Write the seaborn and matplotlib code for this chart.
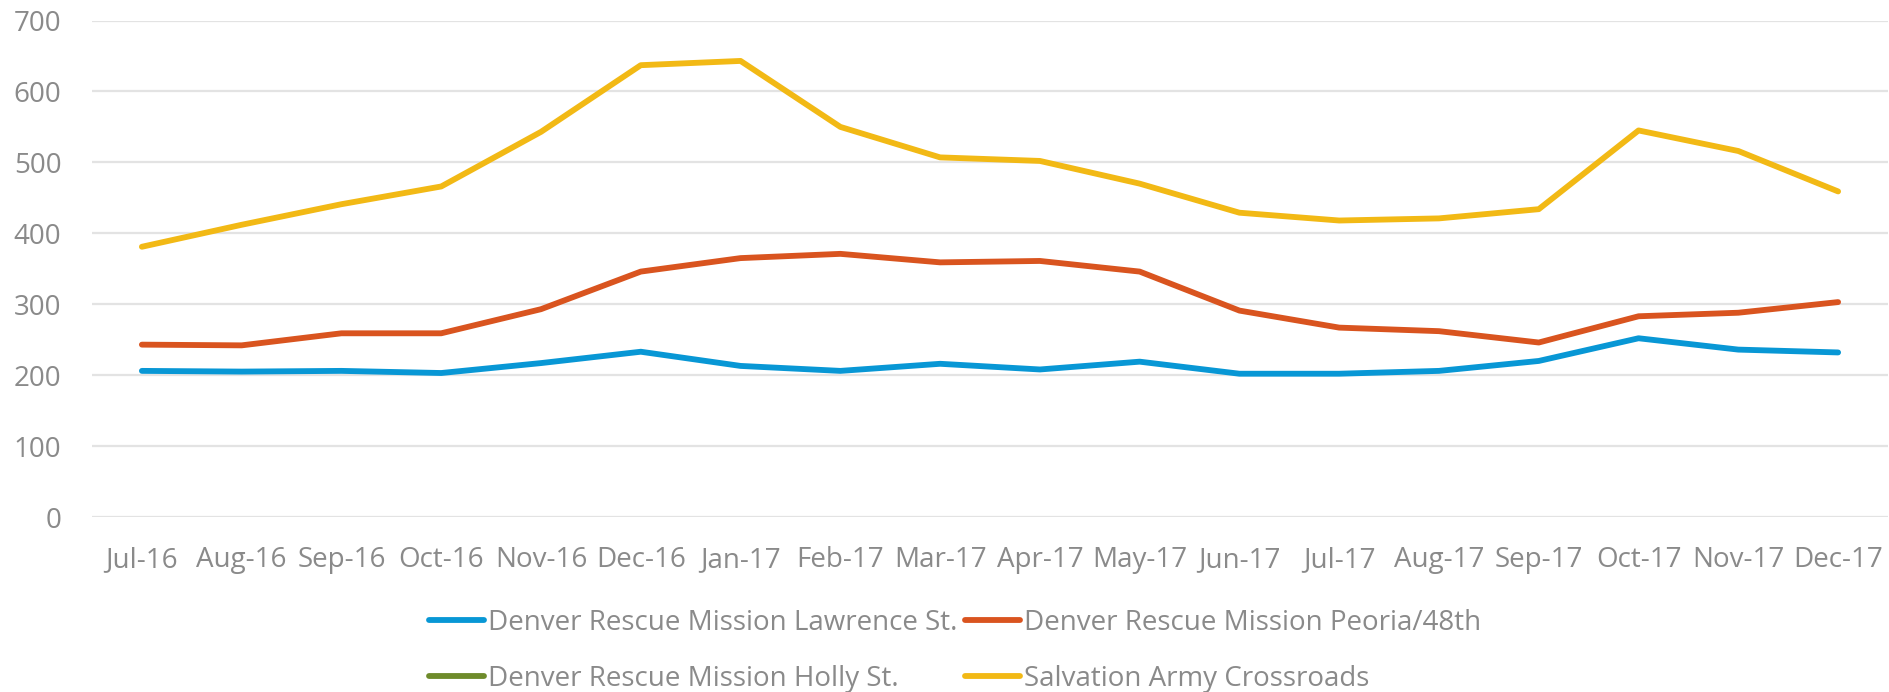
import numpy as np
import pandas as pd
import matplotlib
matplotlib.use('Agg')
import matplotlib.pyplot as plt
from matplotlib.lines import Line2D
import seaborn as sns

# data
months = ['Jul-16', 'Aug-16', 'Sep-16', 'Oct-16', 'Nov-16', 'Dec-16', 'Jan-17', 'Feb-17', 'Mar-17',
          'Apr-17', 'May-17', 'Jun-17', 'Jul-17', 'Aug-17', 'Sep-17', 'Oct-17', 'Nov-17', 'Dec-17']
lawrence = [206, 205, 206, 203, 217, 233, 213, 206, 216, 208, 219, 202, 202, 206, 220, 252, 236, 232]
peoria = [243, 242, 259, 259, 293, 346, 365, 371, 359, 361, 346, 291, 267, 262, 246, 283, 288, 303]
holly = [np.nan] * 18   # no values shown for Holly St.
salvation = [381, 412, 441, 466, 543, 637, 643, 550, 507, 502, 470, 429, 418, 421, 434, 545, 516, 459]
series_names = ['Denver Rescue Mission Lawrence St.', 'Denver Rescue Mission Peoria/48th',
                'Denver Rescue Mission Holly St.', 'Salvation Army Crossroads']
y_ticks = [0, 100, 200, 300, 400, 500, 600, 700]

colors = {
    'Denver Rescue Mission Lawrence St.': '#0897D5',
    'Denver Rescue Mission Peoria/48th': '#D9541F',
    'Denver Rescue Mission Holly St.': '#6E8B2B',
    'Salvation Army Crossroads': '#F2B915',
}

df = pd.DataFrame({'month': months})
for name, vals in zip(series_names, [lawrence, peoria, holly, salvation]):
    df[name] = vals
long_df = df.melt(id_vars='month', var_name='series', value_name='value')

sns.set_theme(style='white')
plt.rcParams['font.family'] = ['Open Sans', 'DejaVu Sans']
text_grey = '#8A8A8A'
lw = 4.2

fig = plt.figure(figsize=(18.9, 6.92), dpi=100)
ax = fig.add_axes([92 / 1890, 1 - 517 / 692, (1888 - 92) / 1890, (517 - 20.5) / 692])

for name in series_names:
    sub = long_df[long_df['series'] == name].dropna()
    if len(sub) == 0:
        continue
    sns.lineplot(data=sub, x='month', y='value', color=colors[name], linewidth=lw,
                 sort=False, ax=ax, solid_capstyle='round', solid_joinstyle='round', legend=False)

ax.set_xlim(-0.5, len(months) - 0.5)
ax.set_ylim(0, 700)
ax.set_yticks(y_ticks)
ax.set_xticks(range(len(months)))
ax.set_xticklabels(months)
ax.set_xlabel('')
ax.set_ylabel('')
ax.grid(axis='y', color='#E3E3E3', linewidth=1.6)
ax.grid(axis='x', visible=False)
ax.set_axisbelow(True)
for s in ax.spines.values():
    s.set_visible(False)
ax.tick_params(axis='both', length=0, labelsize=20, labelcolor=text_grey)
ax.tick_params(axis='x', pad=21)
ax.tick_params(axis='y', pad=22)

# legend: row order Lawrence, Peoria / Holly, Salvation
order = [series_names[0], series_names[2], series_names[1], series_names[3]]
handles = [Line2D([], [], color=colors[n], linewidth=lw, solid_capstyle='round') for n in order]
fig.legend(handles, order, loc='center', bbox_to_anchor=(955 / 1890, 1 - 651 / 692), ncol=2,
           frameon=False, fontsize=20, labelcolor=text_grey, handlelength=2.0,
           handletextpad=0.15, columnspacing=0.25, labelspacing=1.0, borderpad=0)

fig.savefig('out.png', dpi=100)
